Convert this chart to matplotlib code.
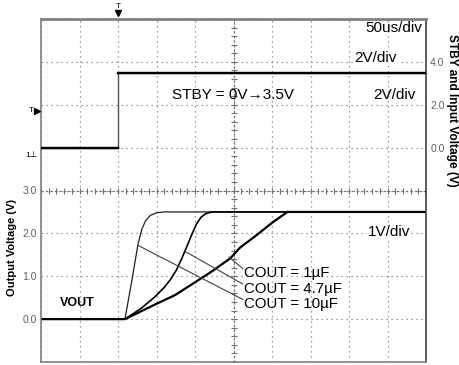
import numpy as np
import matplotlib
matplotlib.use("Agg")
import matplotlib.pyplot as plt

plt.rcParams['font.family'] = ['Liberation Sans', 'DejaVu Sans']

# time base in microseconds (50us/div, 10 divisions)
t_stby = [0, 100, 100, 500]
v_stby = [0.0, 0.0, 3.5, 3.5]

# output voltage traces
t_1uF = [0, 109, 118, 126, 131, 136, 142, 150, 160, 500]
v_1uF = [0.0, 0.0, 0.9, 1.75, 2.1, 2.3, 2.42, 2.48, 2.5, 2.5]

t_47uF = [0, 109, 130, 148, 160, 168, 176, 183, 190, 196, 202, 208, 214, 222, 500]
v_47uF = [0.0, 0.0, 0.25, 0.52, 0.74, 0.92, 1.15, 1.42, 1.72, 1.98, 2.22, 2.38, 2.46, 2.5, 2.5]

t_10uF = [0, 109, 148, 174, 194, 220, 246, 258, 280, 301, 320, 500]
v_10uF = [0.0, 0.0, 0.34, 0.56, 0.79, 1.09, 1.42, 1.66, 1.96, 2.26, 2.5, 2.5]

cout_labels = ["COUT = 1\u00b5F", "COUT = 4.7\u00b5F", "COUT = 10\u00b5F"]
# leader lines: (start on trace) -> (label)
leader_start = [(244, 1.45), (187, 1.58), (126, 1.72)]
label_y = [0.98, 0.62, 0.26]
label_x = 263

left_ticks = list(range(-1, 8))
left_tick_labels = ["", "0.0", "1.0", "2.0", "3.0", "", "", "", ""]
right_ticks = [0, 2, 4]
right_tick_labels = ["0.0", "2.0", "4.0"]

fig = plt.figure(figsize=(4.6, 3.65), dpi=100)
ax = fig.add_axes([41 / 460, 3 / 365, 385 / 460, 343 / 365])
ax.set_xlim(0, 500)
ax.set_ylim(-1, 7)
ax.set_xticks(np.arange(0, 501, 50))
ax.set_xticklabels([])
ax.set_yticks(left_ticks)
ax.set_yticklabels(left_tick_labels)
ax.tick_params(length=0, labelsize=7.5, labelcolor='#606060', pad=3)
ax.grid(True, color='#808080', linestyle=(0, (1, 3)), linewidth=0.9)
for side, sp in ax.spines.items():
    sp.set_color('#808080')
    sp.set_linewidth(1.2)
ax.spines['top'].set_linewidth(2)
ax.spines['right'].set_color('#404040')

# center crosshair with fine divisions
ch_t = np.arange(0, 501, 10)
ax.plot(ch_t, np.full(len(ch_t), 3.0), color='#707070', lw=0.8,
        ls=(0, (2, 2)), marker='|', ms=4, mew=0.8)
ch_v = np.arange(-1, 7.01, 0.2)
ax.plot(np.full(len(ch_v), 250), ch_v, color='#707070', lw=0.8,
        ls=(0, (2, 2)), marker='_', ms=4, mew=0.8)

ax2 = ax.twinx()
ax2.set_ylim(-10, 6)
ax2.set_yticks(right_ticks)
ax2.set_yticklabels(right_tick_labels)
ax2.tick_params(length=0, labelsize=7.5, labelcolor='#606060', pad=3)
for sp in ax2.spines.values():
    sp.set_visible(False)

# STBY step: thin edge, heavy levels
ax2.plot(t_stby, v_stby, color='#555555', lw=1.0)
ax2.plot(t_stby[:2], v_stby[:2], color='black', lw=1.7)
ax2.plot(t_stby[2:], v_stby[2:], color='black', lw=1.7)

# output traces
ax.plot(t_1uF, v_1uF, color='#202020', lw=0.9)
ax.plot(t_47uF, v_47uF, color='black', lw=1.2)
ax.plot(t_10uF, v_10uF, color='black', lw=1.6)

for (x0, y0), y1, txt in zip(leader_start, label_y, cout_labels):
    ax.plot([x0, label_x - 1], [y0, y1 + 0.2], color='#404040', lw=0.8)
    ax.text(label_x, y1, txt, fontsize=10.8, ha='left', va='baseline')

bg = dict(facecolor='white', edgecolor='none', pad=0.5)
ax.text(495, 6.78, "50us/div", fontsize=11, ha='right', va='center')
ax.text(462, 6.08, "2V/div", fontsize=11, ha='right', va='center', bbox=bg)
ax.text(170, 5.22, "STBY = 0V\u21923.5V", fontsize=11, ha='left', va='center')
ax.text(486, 5.22, "2V/div", fontsize=11, ha='right', va='center')
ax.text(479, 2.03, "1V/div", fontsize=11, ha='right', va='center', bbox=bg)
ax.text(24, 0.37, "VOUT", fontsize=9, fontweight='bold', ha='left', va='center')

# trigger / ground markers
ax.plot(100, 7.14, marker='v', ms=4, color='black', clip_on=False)
ax.text(100, 7.2, "T", fontsize=6, ha='center', va='bottom')
ax2.plot(-5, 1.72, marker='>', ms=4, color='black', clip_on=False)
ax2.text(-9, 1.72, "T", fontsize=6, ha='right', va='center')
ax2.text(-5, -0.35, "1\u22a5", fontsize=6, ha='right', va='center')

fig.text(12 / 460, 1 - 247 / 365, "Output Voltage (V)", rotation=90,
         fontsize=8, fontweight='bold', ha='center', va='center')
fig.text(452 / 460, 1 - 110 / 365, "STBY and Input Voltage (V)", rotation=270,
         fontsize=8.6, fontweight='bold', ha='center', va='center')

fig.savefig("out.png", dpi=100)
